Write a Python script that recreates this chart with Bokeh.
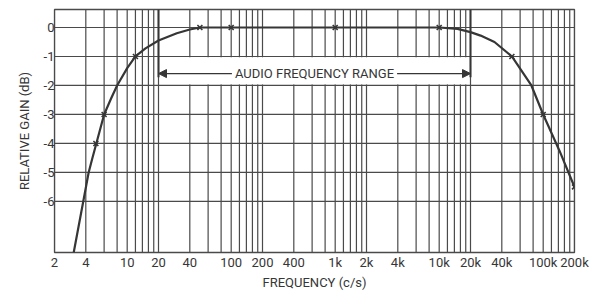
from bokeh.plotting import figure
from bokeh.models import Range1d, FixedTicker, Label, Arrow, NormalHead
from bokeh.embed import file_html
from bokeh.resources import INLINE

# ---- data ----
curve_freq = [3.06, 3.78, 4.26, 4.63, 5.05, 6.0, 7.0, 8.0, 10, 12, 15, 20, 30, 40, 50,
              100, 1000, 10000, 15000, 20000, 25000, 34000, 50000, 77000, 100000, 143000, 200000]
curve_db = [-7.76, -6.0, -5.0, -4.5, -4.0, -3.0, -2.45, -2.0, -1.4, -1.0, -0.72, -0.45,
            -0.2, -0.07, 0, 0, 0, 0, -0.05, -0.16, -0.28, -0.5, -1.0, -2.0, -3.0, -4.24, -5.5]

point_freq = [5, 6, 12, 50, 100, 1000, 10000, 50000, 100000, 200000]
point_db = [-4, -3, -1, 0, 0, 0, 0, -1, -3, -5.5]

x_ticks = [2, 4, 10, 20, 40, 100, 200, 400, 1000, 2000, 4000, 10000, 20000, 40000, 100000, 200000]
x_tick_labels = ["2", "4", "10", "20", "40", "100", "200", "400", "1k", "2k", "4k",
                 "10k", "20k", "40k", "100k", "200k"]
y_ticks = [0, -1, -2, -3, -4, -5, -6]
y_tick_labels = ["0", "-1", "-2", "-3", "-4", "-5", "-6"]

grid_base = [2, 4, 6, 8, 10, 12, 14, 16, 18]
grid_decades = [1, 10, 100, 1000, 10000]
grid_freq = [b * d for d in grid_decades for b in grid_base] + [200000]
grid_db = [0, -1, -2, -3, -4, -5, -6]

band_lo, band_hi = 20, 20000          # audio frequency range
x_min, x_max = 2, 200000
y_min, y_max = -7.76, 0.62

INK = "#363636"
GRID = "#4a4a4a"
FONT = "Roboto"

p = figure(width=589, height=294, x_axis_type="log",
           x_range=Range1d(x_min, x_max), y_range=Range1d(y_min, y_max),
           output_backend="svg", toolbar_location=None,
           min_border_left=54, min_border_right=15, min_border_top=9, min_border_bottom=42)
p.xgrid.visible = False
p.ygrid.visible = False
p.outline_line_color = GRID
p.outline_line_width = 1.3
p.background_fill_color = "white"
p.border_fill_color = "white"

# vertical grid lines (interrupted by the label band between 20 and 20k)
full = [f for f in grid_freq if not (band_lo < f < band_hi)]
part = [f for f in grid_freq if band_lo < f < band_hi]
p.segment(x0=full, x1=full, y0=[y_min] * len(full), y1=[y_max] * len(full),
          line_color=GRID, line_width=1.2)
p.segment(x0=part, x1=part, y0=[y_min] * len(part), y1=[-1.97] * len(part),
          line_color=GRID, line_width=1.2)
p.segment(x0=part, x1=part, y0=[-1.03] * len(part), y1=[y_max] * len(part),
          line_color=GRID, line_width=1.2)

# horizontal grid lines
p.segment(x0=[x_min] * len(grid_db), x1=[x_max] * len(grid_db), y0=grid_db, y1=grid_db,
          line_color=GRID, line_width=1.2)

# band boundary markers at 20 and 20k
p.segment(x0=[band_lo, band_hi], x1=[band_lo, band_hi], y0=[-1.72, -1.72], y1=[y_max, y_max],
          line_color=INK, line_width=2)

# response curve and measured points
p.line(curve_freq, curve_db, line_color=INK, line_width=2.2, line_join="round")
p.scatter(point_freq, point_db, marker="x", size=7, line_color=INK, line_width=1.6)

# AUDIO FREQUENCY RANGE arrows and label
mid = (band_lo * band_hi) ** 0.5
for end in (band_lo, band_hi):
    p.add_layout(Arrow(x_start=mid, y_start=-1.59, x_end=end, y_end=-1.59,
                       line_color=INK, line_width=1.4,
                       end=NormalHead(size=8, fill_color=INK, line_color=INK)))
p.add_layout(Label(x=mid, y=-1.59, text="AUDIO FREQUENCY RANGE", text_align="center",
                   text_baseline="middle", text_font=FONT, text_font_size="13px",
                   text_color=INK, background_fill_color="white", padding=3))

# axes
p.xaxis.ticker = FixedTicker(ticks=x_ticks, minor_ticks=[])
p.xaxis.major_label_overrides = dict(zip(x_ticks, x_tick_labels))
p.yaxis.ticker = FixedTicker(ticks=y_ticks, minor_ticks=[])
p.yaxis.major_label_overrides = dict(zip(y_ticks, y_tick_labels))
for ax in (p.xaxis[0], p.yaxis[0]):
    ax.axis_line_color = None
    ax.major_tick_line_color = None
    ax.minor_tick_line_color = None
    ax.major_tick_in = 0
    ax.major_tick_out = 0
    ax.major_label_text_font = FONT
    ax.major_label_text_font_size = "13px"
    ax.major_label_text_color = INK
    ax.axis_label_text_font = FONT
    ax.axis_label_text_font_size = "13px"
    ax.axis_label_text_font_style = "normal"
    ax.axis_label_text_color = INK
p.xaxis.axis_label = "FREQUENCY (c/s)"
p.yaxis.axis_label = "RELATIVE GAIN (dB)"
p.xaxis.major_label_standoff = 2
p.xaxis.axis_label_standoff = 2
p.yaxis.major_label_standoff = 0
p.yaxis.axis_label_standoff = 9

open("out.html", "w").write(file_html(p, INLINE))
